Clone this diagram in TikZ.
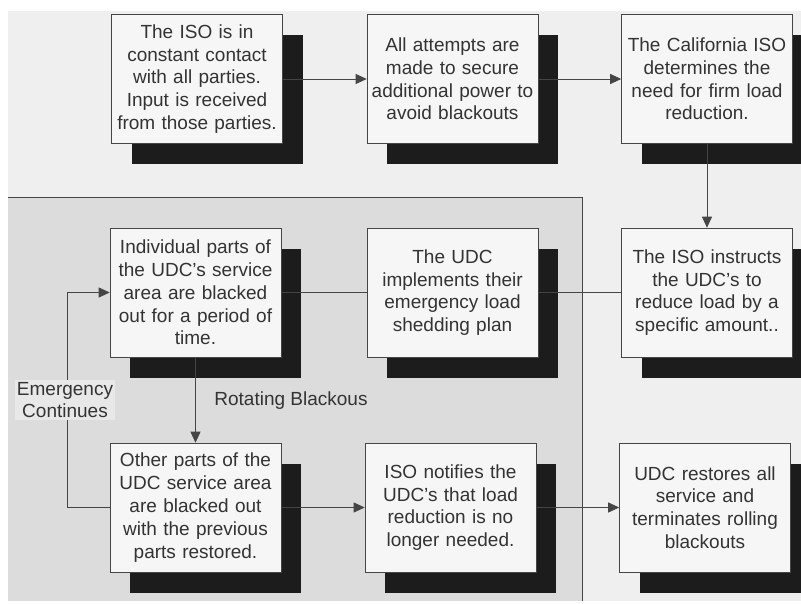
\documentclass[tikz,border=0pt]{standalone}
\usepackage{fontspec}
\setmainfont{Liberation Sans}
\usetikzlibrary{arrows.meta,shadows}
\definecolor{bgout}{HTML}{EFEFEF}
\definecolor{panelc}{HTML}{DCDCDC}
\definecolor{boxfill}{HTML}{F6F6F6}
\definecolor{txt}{HTML}{333333}
\definecolor{edgec}{HTML}{454545}
\definecolor{shade}{HTML}{1C1C1C}
\definecolor{lblbg}{HTML}{E8E8E8}
\begin{document}
\begin{tikzpicture}[x=1pt,y=-1pt,
  stepbox/.style={draw=edgec, line width=0.6pt, fill=boxfill, text=txt,
    minimum width=171pt, minimum height=129pt, text width=170pt, inner sep=0.5pt,
    align=center, font=\fontsize{19}{22.8}\selectfont,
    general shadow={fill=shade, shadow xshift=20pt, shadow yshift=-21pt}},
  lbl/.style={text=txt, align=center, font=\fontsize{19}{22.8}\selectfont, inner sep=2pt},
  conn/.style={draw=edgec, line width=0.8pt},
  arr/.style={conn, -{Triangle[length=11pt,width=10pt]}}]
\useasboundingbox (0,0) rectangle (801,604);
\fill[white] (0,0) rectangle (801,604);
\fill[bgout] (8,11) rectangle (801,601);
\fill[panelc] (8,197) rectangle (582,601);
\draw[conn] (8,197) -- (582,197) -- (582,601);

\node[stepbox] (b1) at (197,79) {The ISO is in\\constant contact\\with all parties.\\Input is received\\from those parties.};
\node[stepbox] (b2) at (452.5,79) {All attempts are\\made to secure\\additional power to\\avoid blackouts};
\node[stepbox] (b3) at (707,79) {The California ISO\\determines the\\need for firm load\\reduction.};
\node[stepbox] (b4) at (195.5,292.5) {Individual parts of\\the UDC's service\\area are blacked\\out for a period of\\time.};
\node[stepbox] (b5) at (452.5,292.5) {The UDC\\implements their\\emergency load\\shedding plan};
\node[stepbox] (b6) at (707,292.5) {The ISO instructs\\the UDC's to\\reduce load by a\\specific amount..};
\node[stepbox] (b7) at (195.5,507.5) {Other parts of the\\UDC service area\\are blacked out\\with the previous\\parts restored.};
\node[stepbox] (b8) at (450.5,507.5) {ISO notifies the\\UDC's that load\\reduction is no\\longer needed.};
\node[stepbox] (b9) at (705,507.5) {UDC restores all\\service and\\terminates rolling\\blackouts};

\draw[arr] (b1) -- (b2);
\draw[arr] (b2) -- (b3);
\draw[arr] (b3) -- (b6);
\draw[conn] (b4) -- (b5);
\draw[conn] (b5) -- (b6);
\draw[arr] (b4) -- (b7);
\draw[arr] (b7) -- (b8);
\draw[arr] (b8) -- (b9);
\coordinate (lx) at (67,400);
\draw[arr] (b7.west) -- (b7.west -| lx) -- (b4.west -| lx) -- (b4.west);
\node[lbl, fill=lblbg] (ec) at (65,400) {Emergency\\Continues};
\node[lbl] (rb) at (291,401) {Rotating Blackous};
\end{tikzpicture}
\end{document}
